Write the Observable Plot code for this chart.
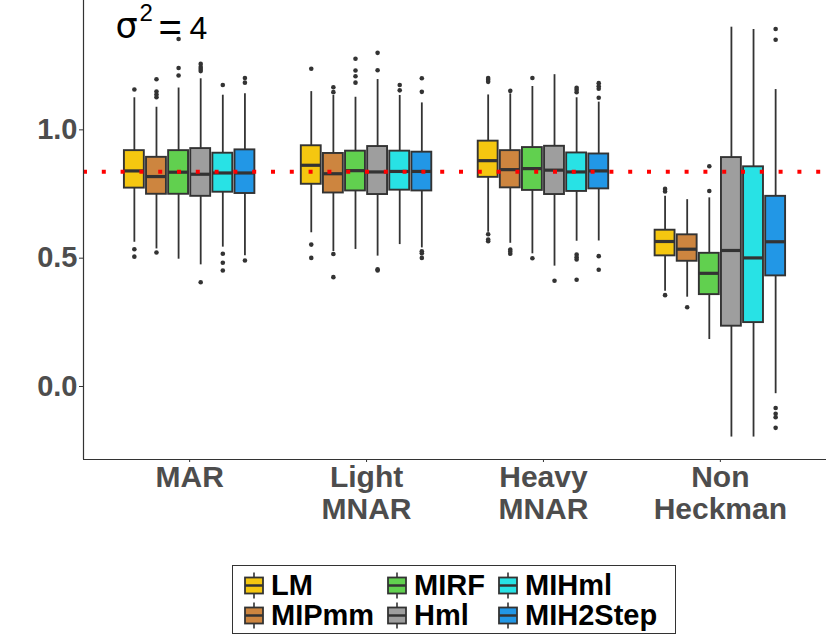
<!DOCTYPE html>
<html><head><meta charset="utf-8">
<script src="https://cdn.jsdelivr.net/npm/d3@7"></script>
<script src="https://cdn.jsdelivr.net/npm/@observablehq/plot@0.6"></script>
<style>
body{margin:0;background:#fff;font-family:"Liberation Sans",Arial,sans-serif;}
#chart{position:relative;width:830px;height:639px;}
#legend{position:absolute;left:232px;top:565px;width:444px;height:69px;box-sizing:border-box;border:1px solid #333;background:#fff;}
.item{position:absolute;display:flex;align-items:center;height:29px;font-weight:bold;font-size:29px;color:#000;line-height:29px;white-space:nowrap;}
.item svg{margin-right:5px;flex:none;}
</style></head><body><div id="chart"></div>
<script>
// ---- data ----
const groups = ["MAR", "Light\nMNAR", "Heavy\nMNAR", "Non\nHeckman"];
const methods = ["LM", "MIPmm", "MIRF", "Hml", "MIHml", "MIH2Step"];
const colors = ["#F5C710", "#CD853F", "#61D04F", "#9E9E9E", "#28E2E5", "#2297E6"];
const refValue = 0.837;
const yTicks = [0, 0.5, 1.0];

// rows: groups, columns: methods
const lowerWhisker = [
  [0.562, 0.536, 0.496, 0.474, 0.543, 0.509],
  [0.599, 0.526, 0.534, 0.508, 0.553, 0.540],
  [0.601, 0.558, 0.517, 0.469, 0.566, 0.567],
  [0.371, 0.348, 0.183, -0.197, -0.197, -0.028]
];
const q1 = [
  [0.773, 0.749, 0.749, 0.741, 0.757, 0.752],
  [0.788, 0.754, 0.762, 0.748, 0.765, 0.762],
  [0.815, 0.774, 0.764, 0.748, 0.760, 0.770],
  [0.509, 0.488, 0.358, 0.235, 0.249, 0.431]
];
const median = [
  [0.840, 0.818, 0.835, 0.827, 0.832, 0.832],
  [0.862, 0.829, 0.841, 0.836, 0.838, 0.838],
  [0.880, 0.845, 0.849, 0.843, 0.836, 0.840],
  [0.565, 0.535, 0.441, 0.530, 0.501, 0.564]
];
const q3 = [
  [0.919, 0.893, 0.919, 0.927, 0.909, 0.922],
  [0.938, 0.908, 0.917, 0.935, 0.917, 0.913],
  [0.956, 0.919, 0.931, 0.936, 0.910, 0.906],
  [0.609, 0.591, 0.519, 0.892, 0.856, 0.741]
];
const upperWhisker = [
  [1.125, 1.088, 1.163, 1.199, 1.135, 1.141],
  [1.149, 1.134, 1.127, 1.196, 1.134, 1.105],
  [1.136, 1.140, 1.169, 1.215, 1.125, 1.108],
  [0.741, 0.728, 0.735, 1.400, 1.391, 1.157]
];
const outliers = [
  [[1.157, 0.535, 0.506], [1.197, 1.149, 1.138, 1.127, 0.522], [1.354, 1.241, 1.212], [1.257, 1.245, 1.237, 1.229, 0.406], [1.175, 0.517, 0.482, 0.452], [1.202, 1.184, 0.491]],
  [[1.238, 0.553, 0.501], [1.166, 1.147, 0.516, 0.426], [1.277, 1.231, 1.209, 1.184], [1.300, 1.232, 0.457, 0.452], [1.175, 1.154], [1.201, 1.148, 0.527, 0.519, 0.501]],
  [[1.202, 1.195, 1.187, 0.593, 0.573, 0.566], [1.152, 0.534, 0.526, 0.517], [1.202, 0.500], [0.412], [1.164, 1.156, 1.147, 0.514, 0.504, 0.495, 0.416], [1.182, 1.170, 1.160, 1.125, 0.508, 0.455]],
  [[0.770, 0.760, 0.356], [0.309], [0.858, 0.762], [], [], [1.393, 1.351, -0.084, -0.106, -0.120, -0.161]]
];

// ---- build tables ----
const dodge = 0.75 / methods.length;
const boxW = dodge * 0.9;
const rows = [], outRows = [];
groups.forEach((g, gi) => methods.forEach((m, mi) => {
  const x = gi + 1 + (mi - (methods.length - 1) / 2) * dodge;
  rows.push({group: g, method: m, x, lo: lowerWhisker[gi][mi], q1: q1[gi][mi], med: median[gi][mi], q3: q3[gi][mi], hi: upperWhisker[gi][mi]});
  outliers[gi][mi].forEach(v => outRows.push({group: g, method: m, x, v}));
}));

const xDomain = [0.4, groups.length + 0.6];
const yDomain = [-0.2844, 1.504];
const dark = "#333333";

const plot = Plot.plot({
  width: 830, height: 560,
  marginLeft: 83, marginRight: 4, marginTop: 0, marginBottom: 101,
  style: {fontFamily: "'Liberation Sans', Arial, sans-serif", background: "#fff"},
  x: {domain: xDomain, axis: null},
  y: {domain: yDomain, axis: null},
  color: {domain: methods, range: colors},
  marks: [
    Plot.ruleX(rows, {x: "x", y1: "lo", y2: "q1", stroke: dark, strokeWidth: 1.8}),
    Plot.ruleX(rows, {x: "x", y1: "q3", y2: "hi", stroke: dark, strokeWidth: 1.8}),
    Plot.rect(rows, {x1: d => d.x - boxW / 2, x2: d => d.x + boxW / 2, y1: "q1", y2: "q3", fill: "method", stroke: dark, strokeWidth: 1.9}),
    Plot.ruleY(rows, {y: "med", x1: d => d.x - boxW / 2, x2: d => d.x + boxW / 2, stroke: dark, strokeWidth: 3.2}),
    Plot.dot(outRows, {x: "x", y: "v", r: 2.3, fill: dark, stroke: null}),
    Plot.ruleY([refValue], {stroke: "red", strokeWidth: 4, strokeDasharray: "4,14.8"}),
    Plot.ruleX([xDomain[0]], {stroke: dark, strokeWidth: 1.2}),
    Plot.ruleY([yDomain[0]], {stroke: dark, strokeWidth: 1.2}),
    Plot.axisY({ticks: yTicks, tickFormat: d3.format(".1f"), label: null, tickSize: 4, tickPadding: 2,
      fontSize: 29, fontWeight: "bold", fill: "#4D4D4D", stroke: dark}),
    Plot.axisX({ticks: groups.map((g, i) => i + 1), tickFormat: i => groups[i - 1], label: null,
      tickSize: 3, tickPadding: 2, fontSize: 30, fontWeight: "bold", lineHeight: 1.07, fill: "#4D4D4D", stroke: dark}),
    Plot.text(["σ"], {text: d => d, frameAnchor: "top-left", textAnchor: "start", lineAnchor: "middle", dx: 32, dy: 26, fontSize: 35, fontFamily: "DejaVu Sans", fill: "black"}),
    Plot.text(["2"], {text: d => d, frameAnchor: "top-left", textAnchor: "start", lineAnchor: "middle", dx: 56, dy: 13, fontSize: 24, fill: "black"}),
    Plot.text(["="], {text: d => d, frameAnchor: "top-left", textAnchor: "start", lineAnchor: "middle", dx: 75, dy: 28, fontSize: 40, fill: "black"}),
    Plot.text(["4"], {text: d => d, frameAnchor: "top-left", textAnchor: "start", lineAnchor: "middle", dx: 106, dy: 28, fontSize: 32, fill: "black"})
  ]
});

const chart = document.getElementById("chart");
chart.appendChild(plot);

// ---- legend (HTML, below the SVG) ----
const legend = document.createElement("div");
legend.id = "legend";
const colLeft = [9, 152, 263];
const rowTop = [5, 35];
methods.forEach((m, i) => {
  const col = Math.floor(i / 2), row = i % 2;
  const item = document.createElement("div");
  item.className = "item";
  item.style.left = colLeft[col] + "px";
  item.style.top = rowTop[row] + "px";
  item.innerHTML = `<svg width="24" height="29" viewBox="0 0 24 29">
    <line x1="12" x2="12" y1="1.5" y2="27.5" stroke="${dark}" stroke-width="1.6"/>
    <rect x="3" y="6.5" width="18" height="16" fill="${colors[i]}" stroke="${dark}" stroke-width="1.8"/>
    <line x1="3" x2="21" y1="14.5" y2="14.5" stroke="${dark}" stroke-width="2.5"/>
  </svg><span>${m}</span>`;
  legend.appendChild(item);
});
chart.appendChild(legend);
</script></body></html>
